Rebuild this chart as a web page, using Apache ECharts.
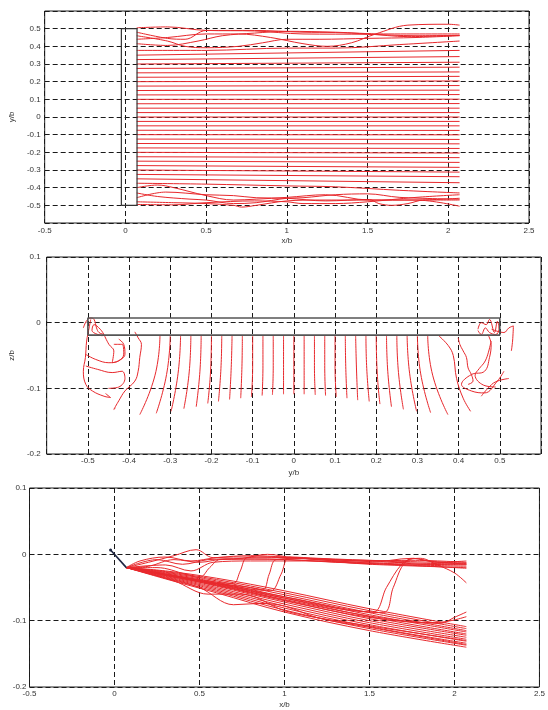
<!DOCTYPE html>
<html><head><meta charset="utf-8">
<script src="https://cdn.jsdelivr.net/npm/echarts@6/dist/echarts.min.js"></script>
<style>html,body{margin:0;padding:0;background:#fff}#c{width:548px;height:710px}</style>
</head><body><div id="c"></div>
<script>
// ---------- Panel 1 (top view, x/b vs y/b) ----------
const p1XStart = 0.07, p1XEnd = 2.07;
const p1Y0 = [0.35,0.325,0.3,0.275,0.25,0.225,0.2,0.175,0.15,0.125,0.1,0.075,0.05,0.025,0,-0.025,-0.05,-0.075,-0.1,-0.125,-0.15,-0.175,-0.2,-0.225,-0.25,-0.275,-0.3,-0.325,-0.35];
const p1Y1 = [0.377,0.342,0.31,0.282,0.255,0.23,0.204,0.178,0.152,0.127,0.101,0.076,0.05,0.025,0,-0.025,-0.05,-0.076,-0.101,-0.127,-0.152,-0.178,-0.204,-0.23,-0.257,-0.285,-0.312,-0.338,-0.372];
const p1Wavy = [
  [[0.07,0.377],[0.5,0.377],[1.0,0.39],[1.3,0.39],[1.7,0.41],[2.07,0.43]],
  [[0.07,-0.375],[0.5,-0.38],[1.0,-0.39],[1.3,-0.395],[1.7,-0.415],[2.07,-0.43]],
  [[0.07,0.505],[0.26,0.51],[0.5,0.49],[0.8,0.487],[1.1,0.47],[1.5,0.468],[1.8,0.46],[2.07,0.462]],
  [[0.07,0.48],[0.26,0.445],[0.37,0.44],[0.5,0.49],[0.8,0.49],[1.1,0.48],[1.3,0.478],[1.5,0.47],[1.75,0.455],[2.07,0.462]],
  [[0.07,0.46],[0.26,0.43],[0.37,0.40],[0.5,0.392],[0.7,0.40],[0.85,0.42],[1.0,0.44],[1.2,0.44],[1.5,0.445],[1.8,0.45],[2.07,0.46]],
  [[0.07,0.44],[0.26,0.45],[0.5,0.47],[0.7,0.47],[0.9,0.45],[1.1,0.415],[1.25,0.40],[1.4,0.42],[1.55,0.47],[1.75,0.52],[2.0,0.525],[2.07,0.52]],
  [[0.07,0.415],[0.26,0.405],[0.45,0.43],[0.6,0.46],[0.8,0.475],[1.0,0.485],[1.3,0.48],[1.6,0.47],[2.07,0.47]],
  [[0.07,-0.40],[0.2,-0.385],[0.3,-0.40],[0.5,-0.445],[0.67,-0.47],[0.81,-0.465],[1.0,-0.455],[1.24,-0.44],[1.51,-0.47],[1.8,-0.47],[2.07,-0.46]],
  [[0.07,-0.43],[0.2,-0.45],[0.4,-0.465],[0.5,-0.47],[0.67,-0.49],[0.81,-0.485],[1.0,-0.46],[1.1,-0.457],[1.3,-0.44],[1.5,-0.435],[1.7,-0.455],[2.07,-0.465]],
  [[0.07,-0.457],[0.25,-0.425],[0.5,-0.44],[0.67,-0.445],[0.81,-0.457],[1.0,-0.46],[1.24,-0.475],[1.51,-0.467],[1.57,-0.49],[1.65,-0.5],[1.75,-0.49],[1.85,-0.47],[2.07,-0.47]],
  [[0.07,-0.48],[0.3,-0.485],[0.5,-0.49],[0.67,-0.50],[0.72,-0.51],[0.81,-0.50],[1.0,-0.475],[1.2,-0.47],[1.51,-0.47],[1.8,-0.47],[2.07,-0.505]],
  [[0.07,-0.495],[0.3,-0.497],[0.5,-0.485],[0.8,-0.475],[1.0,-0.48],[1.1,-0.49],[1.3,-0.49],[1.5,-0.48],[1.8,-0.455],[2.07,-0.44]]
];
const p1Plate = [[-0.025,-0.5],[-0.025,0.5],[0.072,0.5],[0.072,-0.5],[-0.025,-0.5]];

// ---------- Panel 2 (cross-section, y/b vs z/b) ----------
const p2TopZ = -0.02;
const p2Top  = [-0.325,-0.3,-0.275,-0.25,-0.225,-0.2,-0.175,-0.15,-0.125,-0.1,-0.075,-0.05,-0.025,0,0.025,0.05,0.075,0.1,0.125,0.15,0.175,0.2,0.225,0.25,0.275,0.3,0.325];
const p2MidY = [-0.337,-0.309,-0.281,-0.254,-0.228,-0.202,-0.177,-0.152,-0.126,-0.1,-0.075,-0.05,-0.025,0,0.025,0.05,0.075,0.1,0.126,0.152,0.177,0.202,0.228,0.254,0.281,0.308,0.337];
const p2MidZ = [-0.08,-0.079,-0.077,-0.075,-0.074,-0.072,-0.07,-0.068,-0.067,-0.066,-0.065,-0.065,-0.064,-0.064,-0.064,-0.065,-0.065,-0.066,-0.067,-0.069,-0.07,-0.072,-0.074,-0.076,-0.077,-0.078,-0.08];
const p2BotY = [-0.374,-0.334,-0.298,-0.267,-0.237,-0.209,-0.183,-0.156,-0.129,-0.103,-0.077,-0.052,-0.025,0,0.025,0.052,0.077,0.103,0.129,0.155,0.183,0.209,0.237,0.266,0.298,0.332,0.374];
const p2BotZ = [-0.140,-0.138,-0.135,-0.131,-0.128,-0.123,-0.120,-0.117,-0.115,-0.113,-0.111,-0.110,-0.109,-0.109,-0.109,-0.110,-0.111,-0.113,-0.115,-0.118,-0.120,-0.124,-0.128,-0.132,-0.135,-0.137,-0.140];
const p2Vortex = [
  [[-0.511,-0.008],[-0.503,0.003],[-0.493,0.007],[-0.485,0.005],[-0.479,-0.008],[-0.473,-0.015],[-0.461,-0.018],[-0.47,-0.01],[-0.485,-0.003],[-0.49,-0.012],[-0.465,-0.02]],
  [[-0.493,0.005],[-0.497,-0.008],[-0.503,-0.028],[-0.506,-0.053],[-0.511,-0.074],[-0.505,-0.094],[-0.489,-0.104],[-0.461,-0.112],[-0.445,-0.114],[-0.457,-0.108]],
  [[-0.461,-0.018],[-0.449,-0.033],[-0.437,-0.043],[-0.441,-0.061],[-0.425,-0.058],[-0.410,-0.048],[-0.413,-0.033],[-0.425,-0.025]],
  [[-0.505,-0.066],[-0.477,-0.071],[-0.441,-0.076],[-0.417,-0.074],[-0.41,-0.085],[-0.425,-0.098],[-0.45,-0.1]],
  [[-0.386,-0.014],[-0.378,-0.023],[-0.370,-0.033],[-0.374,-0.053],[-0.378,-0.074],[-0.386,-0.089],[-0.41,-0.104],[-0.425,-0.119],[-0.437,-0.132],[-0.433,-0.13]],
  [[-0.506,-0.048],[-0.481,-0.056],[-0.449,-0.061],[-0.425,-0.058],[-0.413,-0.048],[-0.417,-0.033],[-0.437,-0.033]],
  [[0.447,-0.01],[0.455,0.0],[0.467,-0.003],[0.475,0.005],[0.487,-0.015],[0.494,0.002],[0.498,-0.01],[0.49,-0.018],[0.475,-0.015],[0.465,-0.008],[0.455,-0.018],[0.447,-0.012]],
  [[0.48,-0.01],[0.51,-0.015],[0.522,-0.008],[0.533,-0.005],[0.531,-0.028],[0.528,-0.043]],
  [[0.471,-0.018],[0.479,-0.033],[0.475,-0.053],[0.463,-0.074],[0.431,-0.079],[0.407,-0.094],[0.431,-0.104],[0.463,-0.107],[0.494,-0.089],[0.51,-0.074]],
  [[0.399,-0.023],[0.403,-0.033],[0.411,-0.043],[0.419,-0.053],[0.423,-0.069],[0.431,-0.079],[0.435,-0.089],[0.423,-0.094]],
  [[0.352,-0.02],[0.375,-0.035],[0.387,-0.05],[0.395,-0.085],[0.411,-0.115],[0.429,-0.135]],
  [[0.455,-0.112],[0.471,-0.1],[0.49,-0.09],[0.522,-0.085]],
  [[0.479,-0.028],[0.471,-0.048],[0.463,-0.06],[0.45,-0.07],[0.44,-0.08],[0.46,-0.095],[0.49,-0.098]]
];
const p2Plate = [[-0.5,-0.019],[-0.5,0.007],[0.5,0.007],[0.5,-0.019],[-0.5,-0.019]];

// ---------- Panel 3 (side view, x/b vs z/b) ----------
const p3BundleX = [0.07,0.3,0.6,1.0,1.5,2.07];
const p3Bundle = [
  [-0.02,-0.025,-0.036,-0.055,-0.082,-0.109],
  [-0.02,-0.026,-0.038,-0.058,-0.085,-0.112],
  [-0.02,-0.027,-0.040,-0.061,-0.088,-0.115],
  [-0.02,-0.028,-0.042,-0.064,-0.091,-0.117],
  [-0.02,-0.029,-0.044,-0.066,-0.094,-0.120],
  [-0.02,-0.030,-0.046,-0.069,-0.097,-0.122],
  [-0.02,-0.031,-0.048,-0.072,-0.100,-0.125],
  [-0.02,-0.032,-0.050,-0.075,-0.103,-0.128],
  [-0.02,-0.033,-0.052,-0.078,-0.106,-0.131],
  [-0.02,-0.034,-0.054,-0.081,-0.109,-0.134],
  [-0.02,-0.036,-0.056,-0.084,-0.112,-0.137],
  [-0.02,-0.037,-0.058,-0.087,-0.115,-0.140]
];
const p3Other = [
  [[0.07,-0.02],[0.3,-0.035],[0.5,-0.05],[0.7,-0.076],[0.85,-0.074],[1.0,-0.078],[1.2,-0.096],[1.5,-0.11],[2.07,-0.136]],
  [[0.07,-0.02],[0.35,-0.04],[0.55,-0.06],[0.75,-0.06],[1.0,-0.085],[1.25,-0.098],[1.5,-0.108],[2.07,-0.13]],
  [[0.07,-0.02],[0.2,-0.012],[0.35,-0.002],[0.48,0.007],[0.58,-0.005],[0.7,-0.004],[1.0,-0.005],[1.5,-0.01],[1.75,-0.009],[2.07,-0.012]],
  [[0.07,-0.02],[0.15,-0.01],[0.3,-0.004],[0.45,-0.01],[0.6,-0.005],[0.8,-0.002],[1.0,-0.004],[1.3,-0.008],[1.6,-0.01],[1.8,-0.015],[2.07,-0.014]],
  [[0.07,-0.02],[0.25,-0.008],[0.4,-0.015],[0.55,-0.008],[0.75,-0.006],[0.9,0.0],[1.05,-0.005],[1.5,-0.012],[1.75,-0.006],[1.9,-0.012],[2.07,-0.01]],
  [[0.07,-0.02],[0.2,-0.018],[0.35,-0.008],[0.5,-0.012],[0.65,-0.007],[1.0,-0.008],[1.5,-0.014],[2.07,-0.018]],
  [[0.07,-0.02],[0.3,-0.016],[0.45,-0.025],[0.58,-0.012],[0.8,-0.01],[1.2,-0.01],[1.5,-0.015],[2.07,-0.02]],
  [[0.07,-0.02],[0.25,-0.02],[0.42,-0.03],[0.5,-0.035],[0.56,-0.02],[0.62,-0.008],[0.9,-0.007],[1.3,-0.012],[1.7,-0.016],[2.07,-0.021]],
  [[0.07,-0.02],[0.3,-0.03],[0.6,-0.042],[0.7,-0.044],[0.74,-0.025],[0.78,-0.005],[0.9,-0.004],[1.2,-0.008],[1.5,-0.013],[2.07,-0.016]],
  [[0.07,-0.02],[0.4,-0.035],[0.7,-0.048],[0.87,-0.054],[0.91,-0.03],[0.95,-0.008],[1.1,-0.006],[1.5,-0.011],[2.07,-0.015]],
  [[0.07,-0.02],[0.5,-0.04],[0.8,-0.05],[0.92,-0.055],[0.98,-0.03],[1.03,-0.004],[1.2,-0.006],[1.6,-0.01],[2.07,-0.013]],
  [[0.07,-0.02],[0.6,-0.045],[1.0,-0.066],[1.52,-0.087],[1.6,-0.05],[1.69,-0.015],[1.76,-0.006],[1.85,-0.01],[2.07,-0.015]],
  [[0.07,-0.02],[0.6,-0.044],[1.0,-0.064],[1.58,-0.088],[1.64,-0.05],[1.71,-0.012],[1.8,-0.006],[1.9,-0.016],[2.0,-0.028],[2.07,-0.043]],
  [[0.07,-0.02],[0.6,-0.047],[1.0,-0.07],[1.5,-0.095],[1.92,-0.104],[2.0,-0.095],[2.07,-0.087]],
  [[0.07,-0.02],[0.6,-0.046],[1.0,-0.068],[1.5,-0.093],[1.88,-0.103],[1.98,-0.1],[2.07,-0.094]]
];
const p3Plate = [[-0.023,0.0065],[0.07,-0.02]];

// ---------- build ----------
const RED = '#e8282c';
const FONT = 'Liberation Sans';
function ln(gi, pts, opt) {
  opt = opt || {};
  return {type:'line', xAxisIndex:gi, yAxisIndex:gi, data:pts, symbol:'none', showSymbol:false,
    smooth: opt.smooth === undefined ? 0.35 : opt.smooth, silent:true, animation:false, z: opt.z || 3,
    lineStyle:{color: opt.color || RED, width: opt.width || 1}};
}
function fmt(lim){ return v => Math.abs(v) > lim ? '' : String(+(+v).toFixed(2)); }
function splitL(){ return {show:true, lineStyle:{color:'#1a1a1a', type:[5,3], width:1}}; }
function xAx(gi, min, max, iv, lim, name, gap, margin) {
  return {type:'value', gridIndex:gi, min, max, interval:iv, name, nameLocation:'middle', nameGap:gap,
    nameTextStyle:{fontSize:8, color:'#333', fontFamily:FONT},
    axisLine:{show:false}, axisTick:{show:false}, splitLine:splitL(),
    axisLabel:{fontSize:8, color:'#333', fontFamily:FONT, margin, formatter: fmt(lim), showMinLabel:true, showMaxLabel:true}};
}
function yAx(gi, min, max, iv, lim, name, gap, margin) {
  return {type:'value', gridIndex:gi, min, max, interval:iv, name, nameLocation:'middle', nameGap:gap, nameRotate:90,
    nameTextStyle:{fontSize:8, color:'#333', fontFamily:FONT},
    axisLine:{show:false}, axisTick:{show:false}, splitLine:splitL(),
    axisLabel:{fontSize:8, color:'#333', fontFamily:FONT, margin, formatter: fmt(lim), showMinLabel:true, showMaxLabel:true}};
}

const series = [];
// panel 1
p1Y0.forEach((y, i) => series.push(ln(0, [[p1XStart, y], [p1XEnd, p1Y1[i]]], {smooth:false})));
p1Wavy.forEach(p => series.push(ln(0, p)));
series.push(ln(0, p1Plate, {smooth:false, color:'#333', width:1.2, z:5}));
// panel 2
p2Top.forEach((y, i) => series.push(ln(1, [[y, p2TopZ], [p2MidY[i], p2MidZ[i]], [p2BotY[i], p2BotZ[i]]], {smooth:0.5})));
p2Vortex.forEach(p => series.push(ln(1, p, {smooth:0.4})));
series.push(ln(1, p2Plate, {smooth:false, color:'#555', width:1.6, z:5}));
// panel 3
p3Bundle.forEach(zs => series.push(ln(2, zs.map((z, k) => [p3BundleX[k], z]))));
p3Other.forEach(p => series.push(ln(2, p)));
const plate3 = ln(2, p3Plate, {smooth:false, color:'#1b2340', width:1.6, z:5});
plate3.symbol = 'circle'; plate3.symbolSize = 3; plate3.showSymbol = true;
plate3.itemStyle = {color:'#1b2340'};
plate3.data = [{value:p3Plate[0]}, {value:p3Plate[1], symbol:'none'}];
series.push(plate3);

const gridStyle = {show:true, borderColor:'#222', borderWidth:1, backgroundColor:'transparent'};
const option = {
  animation:false,
  backgroundColor:'#fff',
  grid:[
    Object.assign({left:39, top:11, width:490, height:212}, gridStyle),
    Object.assign({left:38, top:257, width:503, height:197}, gridStyle),
    Object.assign({left:29.5, top:488, width:514, height:201}, gridStyle)
  ],
  xAxis:[
    xAx(0, -0.5, 2.5, 0.5, 2.6, 'x/b', 14, 4),
    xAx(1, -0.6, 0.6, 0.1, 0.55, 'y/b', 15, 3),
    xAx(2, -0.5, 2.5, 0.5, 2.6, 'x/b', 14, 3)
  ],
  yAxis:[
    yAx(0, -0.6, 0.6, 0.1, 0.55, 'y/b', 26, 4),
    yAx(1, -0.2, 0.1, 0.1, 0.25, 'z/b', 29, 6),
    yAx(2, -0.2, 0.1, 0.1, 0.25, '', 20, 3)
  ],
  series
};
const chart = echarts.init(document.getElementById('c'), null, {renderer:'canvas'});
chart.setOption(option);
</script></body></html>
